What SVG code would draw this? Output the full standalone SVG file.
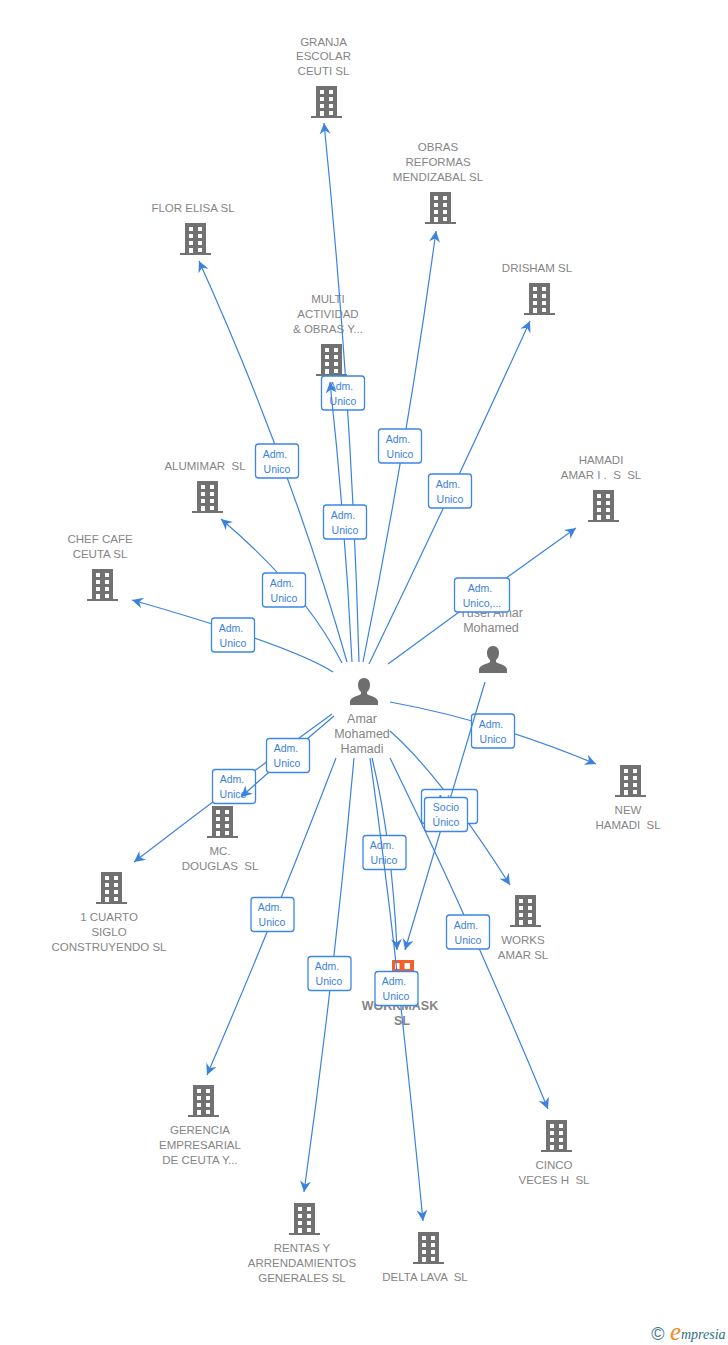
<svg xmlns="http://www.w3.org/2000/svg" width="728" height="1345" viewBox="0 0 728 1345">
<style>
.t{font-family:"Liberation Sans",Arial,sans-serif;font-size:11.500px;fill:#858585;text-anchor:middle;white-space:pre}
.p{font-size:12.500px}
.b{font-weight:bold;font-size:12.500px}
.e{fill:none;stroke:#3b82e0;stroke-width:1.2;marker-end:url(#a)}
.lb rect{fill:#fff;stroke:#3b86e6;stroke-width:1.3}
.lb text{font-family:"Liberation Sans",Arial,sans-serif;font-size:10.500px;fill:#3b7fdc;text-anchor:middle}
</style>
<defs>
<marker id="a" markerUnits="userSpaceOnUse" markerWidth="14" markerHeight="14" refX="10" refY="6" orient="auto" overflow="visible"><path d="M-1,0.500 L10,6 L-1,11.500 L2.500,6Z" fill="#3b82e0"/></marker>
<symbol id="bld" overflow="visible"><path fill="#717171" fill-rule="evenodd" d="M-10,-16H11V14H16V16H-15V14H-10ZM-6,-12V-8H-2V-12ZM3,-12V-8H7V-12ZM-6,-5V-1H-2V-5ZM3,-5V-1H7V-5ZM-6,2V6H-2V2ZM3,2V6H7V2ZM-6,9V14H-2V9ZM3,9V13H7V9Z"/></symbol>
<symbol id="per" overflow="visible"><path fill="#6e6e6e" d="M0,-14C-4,-14 -6,-11 -6,-7C-6,-4 -5,-2 -3,0V2C-6,4 -13,5 -14,9V13H14V9C13,5 6,4 3,2V0C5,-2 6,-4 6,-7C6,-11 4,-14 0,-14Z"/></symbol>
</defs>

<g id="n-granja"><text class="t" x="323.500" y="46">GRANJA</text><text class="t" x="323.500" y="60">ESCOLAR</text><text class="t" x="323.500" y="75">CEUTI SL</text><use href="#bld" x="326" y="102"/></g>
<g id="n-obras"><text class="t" x="438" y="151">OBRAS</text><text class="t" x="438" y="166">REFORMAS</text><text class="t" x="438" y="181">MENDIZABAL SL</text><use href="#bld" x="440" y="208"/></g>
<g id="n-flor"><text class="t" x="193" y="212">FLOR ELISA SL</text><use href="#bld" x="195" y="239"/></g>
<g id="n-drisham"><text class="t" x="537" y="272">DRISHAM SL</text><use href="#bld" x="539" y="299"/></g>
<g id="n-multi"><text class="t" x="328" y="303">MULTI</text><text class="t" x="328" y="318">ACTIVIDAD</text><text class="t" x="328" y="333">&amp; OBRAS Y...</text><use href="#bld" x="331" y="360"/></g>
<g id="n-hamadi"><text class="t" x="601" y="464">HAMADI</text><text class="t" x="601" y="479">AMAR I .  S  SL</text><use href="#bld" x="603" y="506"/></g>
<g id="n-alumimar"><text class="t" x="205" y="470">ALUMIMAR  SL</text><use href="#bld" x="207" y="497"/></g>
<g id="n-chef"><text class="t" x="100" y="543">CHEF CAFE</text><text class="t" x="100" y="558">CEUTA SL</text><use href="#bld" x="102" y="585"/></g>
<g id="n-yusef"><text class="t p" x="491" y="617">Yusef Amar</text><text class="t p" x="491" y="632">Mohamed</text><use href="#per" x="493" y="660"/></g>
<g id="n-amar"><use href="#per" x="364" y="692"/><text class="t p" x="362" y="723">Amar</text><text class="t p" x="362" y="738">Mohamed</text><text class="t p" x="362" y="753">Hamadi</text></g>
<g id="n-new"><use href="#bld" x="630" y="781"/><text class="t" x="628" y="814">NEW</text><text class="t" x="628" y="829">HAMADI  SL</text></g>
<g id="n-mc"><use href="#bld" x="222" y="822"/><text class="t" x="220" y="855">MC.</text><text class="t" x="220" y="870">DOUGLAS  SL</text></g>
<g id="n-cuarto"><use href="#bld" x="111" y="888"/><text class="t" x="109" y="921">1 CUARTO</text><text class="t" x="109" y="936">SIGLO</text><text class="t" x="109" y="951">CONSTRUYENDO SL</text></g>
<g id="n-works"><use href="#bld" x="525" y="911"/><text class="t" x="523" y="944">WORKS</text><text class="t" x="523" y="959">AMAR SL</text></g>
<g id="n-workmask"><path fill="#f4602a" fill-rule="evenodd" d="M392,960H414V990H392ZM395,963V969H399.500V963ZM404.500,963V969H410V963Z"/><text class="t b" x="400" y="1010">WORKMASK</text><text class="t b" x="402" y="1025">SL</text></g>
<g id="n-gerencia"><use href="#bld" x="203" y="1101"/><text class="t" x="200" y="1134">GERENCIA</text><text class="t" x="200" y="1149">EMPRESARIAL</text><text class="t" x="200" y="1164">DE CEUTA Y...</text></g>
<g id="n-cinco"><use href="#bld" x="556" y="1136"/><text class="t" x="554" y="1169">CINCO</text><text class="t" x="554" y="1184">VECES H  SL</text></g>
<g id="n-rentas"><use href="#bld" x="304" y="1219"/><text class="t" x="302" y="1252">RENTAS Y</text><text class="t" x="302" y="1267">ARRENDAMIENTOS</text><text class="t" x="302" y="1282">GENERALES SL</text></g>
<g id="n-delta"><use href="#bld" x="428" y="1248"/><text class="t" x="425" y="1281">DELTA LAVA  SL</text></g>

<g id="connectors">
<path class="e" d="M359,662Q352,400 324,123"/>
<g class="lb"><rect x="321.500" y="376" width="43" height="34" rx="3"/><text x="341" y="390">Adm.</text><text x="343" y="405">Unico</text></g>
<path class="e" d="M352,662Q345,520 330,382"/>
<g class="lb"><rect x="323.500" y="505" width="43" height="34" rx="3"/><text x="343" y="519">Adm.</text><text x="345" y="534">Unico</text></g>
<path class="e" d="M347,662Q291,465 199,261"/>
<g class="lb"><rect x="255.500" y="444" width="43" height="34" rx="3"/><text x="275" y="458">Adm.</text><text x="277" y="473">Unico</text></g>
<path class="e" d="M363,662Q407,445 436,231"/>
<g class="lb"><rect x="378.500" y="429" width="43" height="34" rx="3"/><text x="398" y="443">Adm.</text><text x="400" y="458">Unico</text></g>
<path class="e" d="M369,664Q453,490 530,321"/>
<g class="lb"><rect x="428.500" y="474" width="43" height="34" rx="3"/><text x="448" y="488">Adm.</text><text x="450" y="503">Unico</text></g>
<path class="e" d="M388,664Q482,595 576,528"/>
<g class="lb"><rect x="454.500" y="578" width="55" height="34" rx="3"/><text x="480" y="592">Adm.</text><text x="482" y="607">Unico,...</text></g>
<path class="e" d="M342,663Q305,590 221,519"/>
<g class="lb"><rect x="262.500" y="573" width="43" height="34" rx="3"/><text x="282" y="587">Adm.</text><text x="284" y="602">Unico</text></g>
<path class="e" d="M333,672Q290,645 132,600"/>
<g class="lb"><rect x="211.500" y="618" width="43" height="34" rx="3"/><text x="231" y="632">Adm.</text><text x="233" y="647">Unico</text></g>
<path class="e" d="M390,702Q490,720 596,764"/>
<g class="lb"><rect x="471.500" y="714" width="43" height="34" rx="3"/><text x="491" y="728">Adm.</text><text x="493" y="743">Unico</text></g>
<path class="e" d="M390,731Q440,775 510,885"/>
<g class="lb"><rect x="421.500" y="789.500" width="56" height="34" rx="3"/><text x="449" y="803">Adm.</text><text x="449" y="818">Unico</text></g>
<path class="e" d="M485,682L405,950"/>
<g class="lb"><rect x="424.500" y="797.500" width="43" height="34" rx="3"/><text x="446" y="811">Socio</text><text x="446" y="826">Único</text></g>
<path class="e" d="M390,758Q472,925 548,1109"/>
<g class="lb"><rect x="446.500" y="915" width="43" height="34" rx="3"/><text x="466" y="929">Adm.</text><text x="468" y="944">Unico</text></g>
<path class="e" d="M372,758Q392,840 397,950"/>
<g class="lb"><rect x="363" y="835.500" width="43" height="34" rx="3"/><text x="382" y="849">Adm.</text><text x="384" y="864">Unico</text></g>
<path class="e" d="M370,758Q397,950 423,1221"/>
<g class="lb"><rect x="375" y="971.500" width="43" height="34" rx="3"/><text x="394" y="985">Adm.</text><text x="396" y="1000">Unico</text></g>
<path class="e" d="M354,758Q335,970 304,1192"/>
<g class="lb"><rect x="308" y="956.500" width="43" height="34" rx="3"/><text x="327" y="970">Adm.</text><text x="329" y="985">Unico</text></g>
<path class="e" d="M336,758Q276,915 207,1075"/>
<g class="lb"><rect x="251" y="897.500" width="43" height="34" rx="3"/><text x="270" y="911">Adm.</text><text x="272" y="926">Unico</text></g>
<path class="e" d="M332,714Q233,786 134,862"/>
<g class="lb"><rect x="212.500" y="769.500" width="43" height="34" rx="3"/><text x="232" y="783">Adm.</text><text x="233" y="798">Unico</text></g>
<path class="e" d="M334,716Q288,755 241,797"/>
<g class="lb"><rect x="266.500" y="738.500" width="43" height="34" rx="3"/><text x="286" y="752">Adm.</text><text x="287" y="767">Unico</text></g>
</g>

<g id="logo">
<text x="658" y="1340" font-family="'Liberation Sans',sans-serif" font-size="18" fill="#3e7a8c" text-anchor="middle">©</text>
<text x="670" y="1340" font-family="'Liberation Serif',serif" font-style="italic" font-size="25" fill="#ef8a1e">e</text>
<text x="681" y="1339" font-family="'Liberation Serif',serif" font-style="italic" font-size="14" fill="#2f6f86">mpresia</text>
</g>
</svg>
